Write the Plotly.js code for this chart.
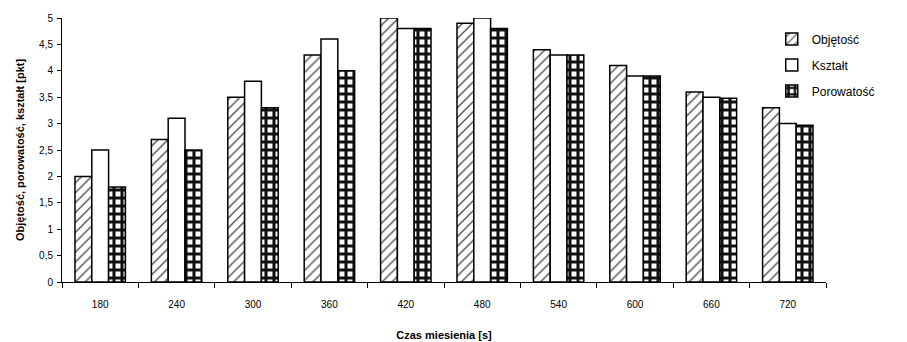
<!DOCTYPE html>
<html>
<head>
<meta charset="utf-8">
<script src="https://cdn.plot.ly/plotly-3.0.1.min.js"></script>
<style>
  html, body { margin: 0; padding: 0; background: #fff; }
  #chart { width: 907px; height: 342px; }
</style>
</head>
<body>
<div id="chart"></div>
<script>
// Mixing time [s]
const czas = ['180', '240', '300', '360', '420', '480', '540', '600', '660', '720'];
// Scores [pkt]
const objetosc   = [2.0, 2.7, 3.5, 4.3, 5.0, 4.9, 4.4, 4.1, 3.6, 3.3];
const ksztalt    = [2.5, 3.1, 3.8, 4.6, 4.8, 5.0, 4.3, 3.9, 3.5, 3.0];
const porowatosc = [1.8, 2.5, 3.3, 4.0, 4.8, 4.8, 4.3, 3.9, 3.48, 2.97];

const outline = { color: '#000', width: 1.5 };

const traces = [
  {
    type: 'bar', name: 'Objętość', x: czas, y: objetosc, legendgroup: 'a',
    marker: {
      color: '#fff', line: outline,
      pattern: { shape: '/', fgcolor: '#444', bgcolor: '#fff', size: 7, solidity: 0.18 }
    }
  },
  {
    type: 'bar', name: 'Kształt', x: czas, y: ksztalt, legendgroup: 'b',
    marker: { color: '#fff', line: outline }
  },
  {
    type: 'bar', name: 'Porowatość', x: czas, y: porowatosc, legendgroup: 'c',
    marker: {
      color: '#fff', line: outline,
      pattern: { shape: '+', fgcolor: '#111', bgcolor: '#fff', size: 8, solidity: 0.62 }
    }
  }
];

const layout = {
  width: 907, height: 342,
  margin: { l: 62, r: 81, t: 18, b: 60 },
  paper_bgcolor: '#fff', plot_bgcolor: '#fff',
  font: { family: 'Liberation Sans, Arial, sans-serif', size: 10, color: '#000' },
  separators: ',.',
  barmode: 'group',
  bargap: 0.34,
  bargroupgap: 0,
  showlegend: true,
  legend: {
    x: 0.929, y: 0.975, xanchor: 'left', yanchor: 'top',
    font: { size: 12 }, traceorder: 'grouped', tracegroupgap: 7, itemwidth: 30,
    bgcolor: 'rgba(0,0,0,0)'
  },
  xaxis: {
    type: 'category',
    showline: true, linecolor: '#000', linewidth: 1,
    ticks: 'outside', tickson: 'boundaries', ticklen: 5, tickcolor: '#000',
    showgrid: false, zeroline: false,
    ticklabelstandoff: 13,
    title: { text: '<b>Czas miesienia [s]</b>', font: { size: 11 }, standoff: 22 }
  },
  yaxis: {
    range: [0, 5], dtick: 0.5,
    showline: true, linecolor: '#000', linewidth: 1,
    ticks: 'outside', ticklen: 4, tickcolor: '#000',
    showgrid: false, zeroline: false,
    ticklabelstandoff: 2,
    title: { text: '<b>Objętość, porowatość, kształt [pkt]</b>', font: { size: 11 }, standoff: 12 }
  }
};

Plotly.newPlot('chart', traces, layout, { displayModeBar: false, staticPlot: true });
</script>
</body>
</html>
